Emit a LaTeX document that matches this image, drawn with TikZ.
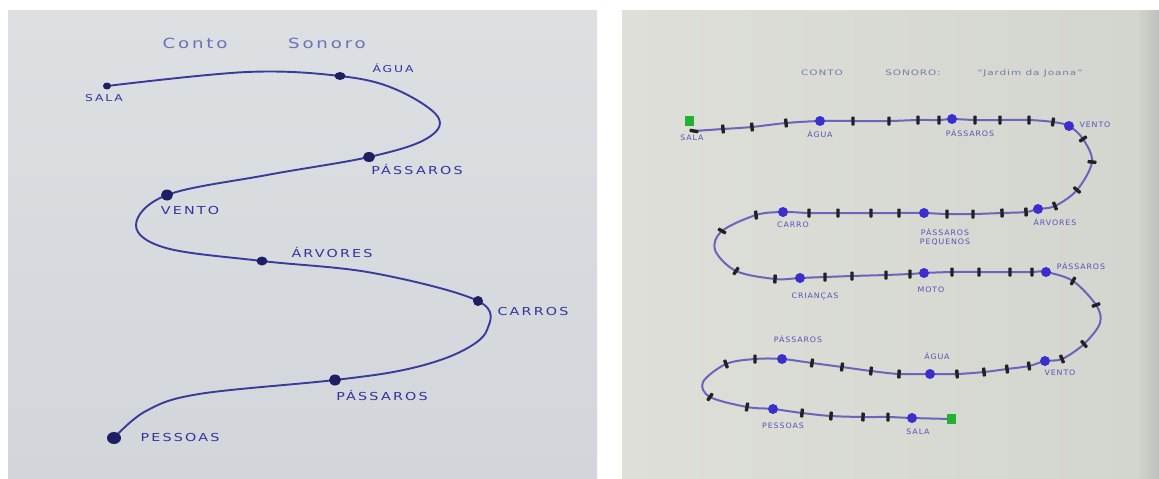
\documentclass[tikz,border=0pt]{standalone}
\usepackage{fontspec}
\usetikzlibrary{shapes.geometric}
% hand-lettering stand-ins
\newfontfamily\handL[FakeStretch=1.3,LetterSpace=20]{DejaVu Sans}
\newfontfamily\handR[FakeStretch=1.05,LetterSpace=12]{DejaVu Sans}
\newfontfamily\handT[FakeStretch=1.4,LetterSpace=12]{DejaVu Sans}
\definecolor{paperL}{HTML}{DCE0E3}
\definecolor{paperLb}{HTML}{D2D6DA}
\definecolor{paperR}{HTML}{DEDFD9}
\definecolor{paperRb}{HTML}{D3D5CF}
\definecolor{edgeR}{HTML}{BCBFBA}
\definecolor{inkL}{HTML}{3A3A9C}
\definecolor{dotL}{HTML}{1E1E62}
\definecolor{textL}{HTML}{33339E}
\definecolor{titleL}{HTML}{6C70B8}
\definecolor{inkR}{HTML}{6A64BC}
\definecolor{dotR}{HTML}{3A2ECC}
\definecolor{textR}{HTML}{5852B6}
\definecolor{titleR}{HTML}{767CA2}
\definecolor{tickR}{HTML}{222222}
\definecolor{greenR}{HTML}{22B232}
\tikzset{
  pathL/.style={draw=inkL,line width=1.9pt,line cap=round},
  pathR/.style={draw=inkR,line width=2pt,line cap=round},
  dotl/.style={ellipse,fill=dotL,inner sep=0pt},
  dotr/.style={circle,fill=dotR,inner sep=0pt,minimum size=10pt},
  tickmark/.style={rectangle,fill=tickR,inner sep=0pt,minimum width=3.4pt,minimum height=9pt,rounded corners=0.8pt},
  endsq/.style={rectangle,fill=greenR,inner sep=0pt,minimum width=9pt,minimum height=10pt},
  labl/.style={text=textL,font=\handL\fontsize{11}{11}\selectfont,inner sep=0pt},
  labls/.style={text=textL,font=\handL\fontsize{9.5}{9.5}\selectfont,inner sep=0pt},
  labr/.style={text=textR,font=\handR\fontsize{7.5}{8.5}\selectfont,inner sep=0pt,align=center},
  titl/.style={text=titleL,font=\handL\fontsize{14}{14}\selectfont,inner sep=0pt},
  titr/.style={text=titleR,font=\handT\fontsize{7.5}{7.5}\selectfont,inner sep=0pt},
}
\begin{document}
\begin{tikzpicture}[x=1pt,y=-1pt]
\useasboundingbox (0,0) rectangle (1159,479);
\fill[white] (0,0) rectangle (1159,479);
% the two sheets of paper
\shade[top color=paperL,bottom color=paperLb] (8,10) rectangle (597,478);
\shade[left color=paperR,right color=paperRb] (622,10) rectangle (1137,478);
\shade[left color=paperRb,right color=edgeR] (1137,10) rectangle (1159,478);

% ---------------- left sheet: "Conto Sonoro" ----------------
\node[titl] (tl1) at (195,43) {Conto};
\node[titl] (tl2) at (327,43) {Sonoro};

\coordinate (lS)  at (107,86);
\coordinate (l1)  at (247,72);
\coordinate (lA)  at (340,76);
\coordinate (l2)  at (395,89);
\coordinate (l3)  at (438,117);
\coordinate (l4)  at (426,139);
\coordinate (lP1) at (369,157);
\coordinate (l5)  at (267,175);
\coordinate (lV)  at (167,195);
\coordinate (l6)  at (136,225);
\coordinate (l7)  at (166,248);
\coordinate (lR)  at (262,261);
\coordinate (l8)  at (373,273);
\coordinate (lC)  at (478,301);
\coordinate (l9)  at (487,330);
\coordinate (l10) at (460,352);
\coordinate (l11) at (408,369);
\coordinate (lP2) at (335,380);
\coordinate (l12) at (199,394);
\coordinate (l13) at (146,411);
\coordinate (lE)  at (114,438);

\draw[pathL] plot[smooth,tension=0.6] coordinates {(lS) (l1) (lA) (l2) (l3) (l4) (lP1) (l5) (lV) (l6) (l7) (lR) (l8) (lC) (l9) (l10) (l11) (lP2) (l12) (l13) (lE)};

\node[dotl,minimum width=8pt,minimum height=7pt]   (dlS)  at (lS)  {};
\node[dotl,minimum width=11pt,minimum height=8pt]  (dlA)  at (lA)  {};
\node[dotl,minimum width=12pt,minimum height=10pt] (dlP1) at (lP1) {};
\node[dotl,minimum width=12pt,minimum height=11pt] (dlV)  at (lV)  {};
\node[dotl,minimum width=11pt,minimum height=9pt]  (dlR)  at (lR)  {};
\node[dotl,minimum width=10pt,minimum height=10pt] (dlC)  at (lC)  {};
\node[dotl,minimum width=12pt,minimum height=11pt] (dlP2) at (lP2) {};
\node[dotl,minimum width=14pt,minimum height=12pt] (dlE)  at (lE)  {};

\node[labls] (tlS)  at (104,98)  {SALA};
\node[labls] (tlA)  at (393,68)  {ÁGUA};
\node[labl]  (tlP1) at (417,169) {PÁSSAROS};
\node[labl]  (tlV)  at (190,210) {VENTO};
\node[labl]  (tlR)  at (332,252) {ÁRVORES};
\node[labl]  (tlC)  at (533,311) {CARROS};
\node[labl]  (tlP2) at (382,395) {PÁSSAROS};
\node[labl]  (tlE)  at (180,437) {PESSOAS};

% ---------------- right sheet: "Conto sonoro" with beats ----------------
\node[titr] (tr1) at (822,73) {CONTO};
\node[titr] (tr2) at (913,73) {SONORO:};
\node[titr] (tr3) at (1030,73) {“Jardim da Joana”};

\coordinate (r00) at (694,131);
\coordinate (r01) at (723,129);
\coordinate (r02) at (752,127);
\coordinate (r03) at (786,123);
\coordinate (rA1) at (820,121);
\coordinate (r04) at (853,121);
\coordinate (r05) at (889,121);
\coordinate (r06) at (918,120);
\coordinate (r07) at (939,120);
\coordinate (rP1) at (952,119);
\coordinate (r08) at (975,120);
\coordinate (r09) at (1000,120);
\coordinate (r10) at (1029,120);
\coordinate (r11) at (1053,122);
\coordinate (rV1) at (1069,126);
\coordinate (r12) at (1083,139);
\coordinate (r13) at (1092,162);
\coordinate (r14) at (1077,190);
\coordinate (r15) at (1055,206);
\coordinate (rR)  at (1038,209);
\coordinate (r16) at (1026,212);
\coordinate (r17) at (1002,213);
\coordinate (r18) at (973,214);
\coordinate (r19) at (947,214);
\coordinate (rPP) at (924,213);
\coordinate (r20) at (899,213);
\coordinate (r21) at (871,213);
\coordinate (r22) at (838,213);
\coordinate (r23) at (809,213);
\coordinate (rC)  at (783,212);
\coordinate (r24) at (756,215);
\coordinate (r25) at (722,231);
\coordinate (w1)  at (715,250);
\coordinate (r26) at (736,271);
\coordinate (r27) at (775,279);
\coordinate (rK)  at (800,278);
\coordinate (r28) at (825,277);
\coordinate (r29) at (852,276);
\coordinate (r30) at (886,275);
\coordinate (r31) at (910,274);
\coordinate (rM)  at (924,273);
\coordinate (r32) at (952,272);
\coordinate (r33) at (979,272);
\coordinate (r34) at (1010,272);
\coordinate (r35) at (1032,272);
\coordinate (rP2) at (1046,272);
\coordinate (r36) at (1073,281);
\coordinate (r37) at (1096,305);
\coordinate (w2)  at (1100,323);
\coordinate (r38) at (1084,344);
\coordinate (r39) at (1062,359);
\coordinate (rV2) at (1045,361);
\coordinate (r40) at (1029,366);
\coordinate (r41) at (1007,369);
\coordinate (r42) at (984,372);
\coordinate (r43) at (957,374);
\coordinate (rA2) at (930,374);
\coordinate (r44) at (899,374);
\coordinate (r45) at (871,371);
\coordinate (r46) at (842,367);
\coordinate (r47) at (812,363);
\coordinate (rP3) at (782,359);
\coordinate (r48) at (755,359);
\coordinate (r49) at (726,364);
\coordinate (w3)  at (703,382);
\coordinate (r50) at (710,397);
\coordinate (r51) at (747,407);
\coordinate (rE)  at (773,409);
\coordinate (r52) at (802,413);
\coordinate (r53) at (831,416);
\coordinate (r54) at (863,417);
\coordinate (r55) at (888,417);
\coordinate (rS2) at (912,418);
\coordinate (rG2) at (951,419);

\draw[pathR] plot[smooth,tension=0.55] coordinates {
  (r00) (r01) (r02) (r03) (rA1) (r04) (r05) (r06) (r07) (rP1) (r08) (r09) (r10) (r11) (rV1)
  (r12) (r13) (r14) (r15) (rR) (r16) (r17) (r18) (r19) (rPP) (r20) (r21) (r22) (r23) (rC)
  (r24) (r25) (w1) (r26) (r27) (rK) (r28) (r29) (r30) (r31) (rM) (r32) (r33) (r34) (r35) (rP2)
  (r36) (r37) (w2) (r38) (r39) (rV2) (r40) (r41) (r42) (r43) (rA2) (r44) (r45) (r46) (r47) (rP3)
  (r48) (r49) (w3) (r50) (r51) (rE) (r52) (r53) (r54) (r55) (rS2) (rG2)};

% beat marks across the line
\foreach \p/\a in {r00/80,r01/5,r02/5,r03/5,r04/0,r05/0,r06/0,r07/0,r08/0,r09/0,r10/0,r11/-8,
  r12/-55,r13/-95,r14/50,r15/22,r16/3,r17/2,r18/0,r19/0,r20/0,r21/0,r22/0,r23/0,r24/6,
  r25/60,r26/-35,r27/-3,r28/0,r29/0,r30/0,r31/0,r32/0,r33/0,r34/0,r35/0,r36/-28,r37/-70,
  r38/40,r39/22,r40/8,r41/7,r42/6,r43/4,r44/-3,r45/-6,r46/-8,r47/-8,r48/0,r49/20,r50/-35,
  r51/-10,r52/-6,r53/-4,r54/-2,r55/0}
  \node[tickmark,rotate=\a] (t-\p) at (\p) {};

% sound events
\foreach \p in {rA1,rP1,rV1,rR,rPP,rC,rK,rM,rP2,rV2,rA2,rP3,rE,rS2}
  \node[dotr] (d-\p) at (\p) {};

\node[endsq] (gS) at (689,121) {};
\node[endsq] (gE) at (rG2) {};

\node[labr] (trS1) at (692,138)  {SALA};
\node[labr] (trA1) at (820,134)  {ÁGUA};
\node[labr] (trP1) at (970,133)  {PÁSSAROS};
\node[labr] (trV1) at (1095,125) {VENTO};
\node[labr] (trR)  at (1055,222) {ÁRVORES};
\node[labr] (trPP) at (945,237)  {PÁSSAROS\\PEQUENOS};
\node[labr] (trC)  at (793,225)  {CARRO};
\node[labr] (trK)  at (815,296)  {CRIANÇAS};
\node[labr] (trM)  at (931,290)  {MOTO};
\node[labr] (trP2) at (1081,266) {PÁSSAROS};
\node[labr] (trV2) at (1060,373) {VENTO};
\node[labr] (trA2) at (937,356)  {ÁGUA};
\node[labr] (trP3) at (798,339)  {PÁSSAROS};
\node[labr] (trE)  at (783,426)  {PESSOAS};
\node[labr] (trS2) at (918,432)  {SALA};
\end{tikzpicture}
\end{document}
